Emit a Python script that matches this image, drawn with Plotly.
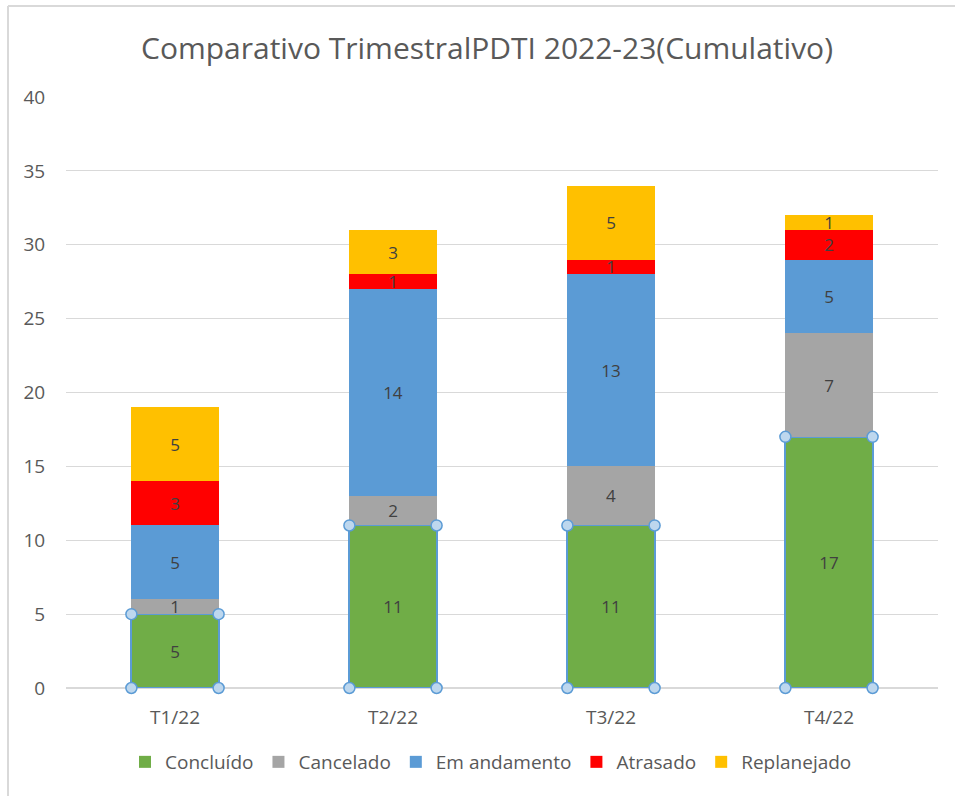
import plotly.graph_objects as go

quarters = ["T1/22", "T2/22", "T3/22", "T4/22"]
concluido = [5, 11, 11, 17]
cancelado = [1, 2, 4, 7]
em_andamento = [5, 14, 13, 5]
atrasado = [3, 1, 1, 2]
replanejado = [5, 3, 5, 1]

series = [
    ("Concluído", concluido, "#70ad47"),
    ("Cancelado", cancelado, "#a5a5a5"),
    ("Em andamento", em_andamento, "#5b9bd5"),
    ("Atrasado", atrasado, "#ff0000"),
    ("Replanejado", replanejado, "#ffc000"),
]

FONT = "Open Sans, Noto Sans, sans-serif"
BAR_W = 0.4
xs = list(range(len(quarters)))

fig = go.Figure()
for rank, (name, vals, color) in enumerate(series):
    sel = name == "Concluído"
    fig.add_trace(go.Bar(
        x=xs, y=vals, name=name, width=BAR_W,
        marker=dict(color=color,
                    line=dict(color="#5b9bd5" if sel else color, width=2 if sel else 0)),
        text=vals, textposition="inside", insidetextanchor="middle", textangle=0,
        textfont=dict(color="#404040", size=17, family=FONT),
        constraintext="none", hoverinfo="skip",
        showlegend=not sel, legendrank=rank,
    ))
    if sel:
        # legend entry without the selection outline
        fig.add_trace(go.Bar(x=[None], y=[None], name=name, legendrank=rank,
                             marker=dict(color=color, line=dict(width=0)),
                             hoverinfo="skip"))

# selection handles on the Concluído series (bar corners)
hx, hy = [], []
for i, v in zip(xs, concluido):
    for dx in (-BAR_W / 2, BAR_W / 2):
        for yy in (0, v):
            hx.append(i + dx)
            hy.append(yy)
fig.add_trace(go.Scatter(
    x=hx, y=hy, mode="markers", showlegend=False, hoverinfo="skip",
    marker=dict(size=11, color="#bdd7ee", line=dict(color="#5b9bd5", width=1.5)),
    cliponaxis=False,
))

W, H = 955, 796
L, R, T, B = 66, 17, 97, 108
pw, ph = W - L - R, H - T - B


def px_x(p):
    return (p - L) / pw


def px_y(p):
    return (H - B - p) / ph


fig.update_layout(
    width=W, height=H,
    margin=dict(l=L, r=R, t=T, b=B),
    paper_bgcolor="white", plot_bgcolor="white",
    barmode="stack",
    title=dict(text="Comparativo TrimestralPDTI 2022-23(Cumulativo)",
               x=487 / W, xanchor="center", xref="container",
               y=1 - 48 / H, yanchor="middle",
               font=dict(size=30, color="#595959", family=FONT)),
    font=dict(family=FONT, color="#595959", size=19),
    uniformtext=dict(minsize=17, mode="show"),
    legend=dict(orientation="h", x=px_x(491), xanchor="center",
                y=px_y(762), yanchor="middle",
                font=dict(size=19, color="#595959"),
                itemwidth=30, traceorder="normal"),
    xaxis=dict(tickmode="array", tickvals=xs, ticktext=quarters,
               range=[-0.5, 3.5], showgrid=False, zeroline=False,
               showline=False, ticks="outside", ticklen=12,
               tickcolor="rgba(0,0,0,0)",
               tickfont=dict(size=19, color="#595959")),
    yaxis=dict(range=[0, 40], dtick=5, showgrid=True, gridcolor="#d9d9d9",
               gridwidth=1, zeroline=True, zerolinecolor="#d9d9d9",
               showline=False, ticks="outside", ticklen=16,
               tickcolor="rgba(0,0,0,0)",
               tickfont=dict(size=19, color="#595959")),
    shapes=[
        dict(type="line", xref="paper", yref="paper",
             x0=px_x(8), x1=px_x(W), y0=px_y(6), y1=px_y(6),
             line=dict(color="#d9d9d9", width=2), layer="below"),
        dict(type="line", xref="paper", yref="paper",
             x0=px_x(8), x1=px_x(8), y0=px_y(6), y1=px_y(H),
             line=dict(color="#d9d9d9", width=2), layer="below"),
    ],
)

fig.write_html("out.html", config={"displayModeBar": False},
               post_script="document.body.style.margin='0';document.body.style.overflow='hidden';")
